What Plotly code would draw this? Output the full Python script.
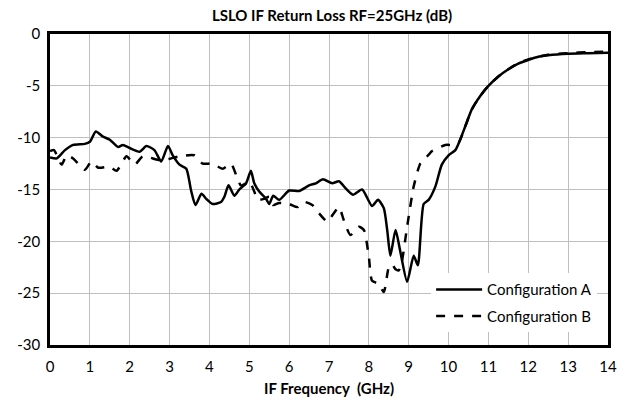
import plotly.graph_objects as go

freq_a = [0, 0.17, 0.375, 0.58, 0.875, 1.0, 1.15, 1.33, 1.5, 1.71, 1.83, 2.0, 2.25, 2.42, 2.62, 2.79, 2.96,
          3.08, 3.25, 3.42, 3.54, 3.65, 3.8, 3.92, 4.08, 4.29, 4.375, 4.48, 4.625, 4.75, 4.92, 5.04, 5.125,
          5.25, 5.42, 5.5, 5.6, 5.75, 6.0, 6.25, 6.5, 6.67, 6.85, 7.08, 7.25, 7.42, 7.6, 7.83, 8.08, 8.23,
          8.375, 8.46, 8.54, 8.67, 8.79, 8.96, 9.125, 9.23, 9.375, 9.5, 9.67, 9.83, 10.0, 10.17, 10.29,
          10.42, 10.58, 10.79, 11.0, 11.25, 11.5, 11.75, 12.0, 12.25, 12.5, 13.0, 13.5, 14.0]
loss_a = [-11.9, -12.0, -11.2, -10.7, -10.6, -10.4, -9.4, -9.9, -10.2, -10.9, -10.7, -11.0, -11.35, -10.8,
          -11.2, -12.3, -10.8, -11.7, -12.6, -13.0, -15.1, -16.5, -15.4, -15.9, -16.4, -16.2, -15.7, -14.6,
          -15.6, -15.0, -14.4, -13.2, -14.4, -15.2, -15.9, -16.4, -15.6, -16.0, -15.1, -15.15, -14.6, -14.4,
          -14.0, -14.4, -14.2, -14.9, -15.5, -15.0, -16.6, -16.0, -16.8, -18.9, -21.4, -18.9, -21.0, -23.9,
          -21.4, -22.3, -16.4, -16.0, -14.7, -12.6, -11.7, -11.2, -10.2, -8.9, -7.3, -6.0, -5.0, -4.1, -3.4,
          -2.85, -2.5, -2.2, -2.05, -1.9, -1.85, -1.8]

freq_b = [0, 0.1, 0.29, 0.42, 0.58, 0.875, 1.04, 1.21, 1.5, 1.67, 1.92, 2.125, 2.33, 2.67, 2.83, 3.04, 3.25,
          3.62, 3.83, 4.08, 4.33, 4.54, 4.67, 4.79, 4.92, 5.0, 5.125, 5.21, 5.375, 5.5, 5.6, 5.75, 6.0, 6.21,
          6.375, 6.58, 6.75, 6.96, 7.1, 7.25, 7.375, 7.54, 7.75, 7.875, 8.0, 8.08, 8.25, 8.375, 8.5, 8.58,
          8.67, 8.75, 8.83, 8.96, 9.125, 9.29, 9.42, 9.58, 9.75, 9.92, 10.125, 10.25, 10.42, 10.58, 10.79,
          11.0, 11.25, 11.5, 11.75, 12.0, 12.5, 13.0, 13.5, 14.0]
loss_b = [-11.3, -11.2, -12.6, -11.7, -12.0, -13.1, -12.3, -12.9, -12.8, -13.2, -11.8, -12.6, -11.8, -12.1,
          -12.2, -12.0, -11.8, -11.7, -12.5, -12.5, -13.0, -12.5, -13.6, -14.6, -14.4, -14.2, -15.2, -16.0,
          -15.9, -15.7, -16.5, -16.3, -16.4, -16.7, -16.2, -16.5, -17.3, -18.1, -17.4, -16.7, -18.0, -19.4,
          -18.6, -18.9, -21.5, -23.8, -24.1, -24.9, -22.5, -22.2, -22.7, -22.8, -21.9, -18.6, -14.7, -12.5,
          -12.0, -11.3, -11.0, -10.7, -10.7, -10.5, -8.9, -7.3, -6.0, -5.0, -4.1, -3.4, -2.8, -2.45, -2.0,
          -1.85, -1.75, -1.7]

x_ticks = list(range(0, 15))
y_ticks = [0, -5, -10, -15, -20, -25, -30]

FONT = "Lato"

fig = go.Figure()
fig.add_trace(go.Scatter(x=freq_a, y=loss_a, mode="lines", name="Configuration A", legendgroup="a",
                         line=dict(color="black", width=2.5, shape="spline", smoothing=0.6)))
fig.add_trace(go.Scatter(x=freq_b, y=loss_b, mode="lines", name="Configuration B", legendgroup="b",
                         line=dict(color="black", width=2.5, dash="dash", shape="spline", smoothing=0.6)))

fig.update_layout(
    width=630, height=403,
    margin=dict(l=50, r=22, t=34, b=58),
    paper_bgcolor="white", plot_bgcolor="white",
    font=dict(family=FONT, size=15, color="black"),
    title=dict(text="<b>LSLO IF Return Loss RF=25GHz (dB)</b>", x=0.527, xanchor="center",
               y=0.96, yanchor="middle", font=dict(size=15, family=FONT), automargin=False),
    legend=dict(x=0.683, y=0.231, xanchor="left", yanchor="top", bgcolor="white",
                font=dict(size=15, family=FONT), traceorder="grouped", tracegroupgap=4,
                itemwidth=46),
    showlegend=True,
)
fig.update_xaxes(range=[0, 14], tickvals=x_ticks, ticktext=[str(v) for v in x_ticks],
                 showgrid=True, gridcolor="#bfbfbf", gridwidth=1,
                 showline=True, linecolor="black", linewidth=2.5, mirror=True,
                 ticks="", zeroline=False, automargin=False, ticklabelstandoff=6,
                 tickfont=dict(size=15),
                 title=dict(text="<b>IF Frequency  (GHz)</b>", font=dict(size=15, family=FONT), standoff=10))
fig.update_yaxes(range=[-30, 0], tickvals=y_ticks, ticktext=[str(v) for v in y_ticks],
                 showgrid=True, gridcolor="#bfbfbf", gridwidth=1,
                 showline=True, linecolor="black", linewidth=2.5, mirror=True,
                 ticks="", zeroline=False, automargin=False, ticklabelstandoff=4,
                 tickfont=dict(size=15))

fig.write_html("out.html", config={"displayModeBar": False},
               post_script="document.body.style.margin='0';")
